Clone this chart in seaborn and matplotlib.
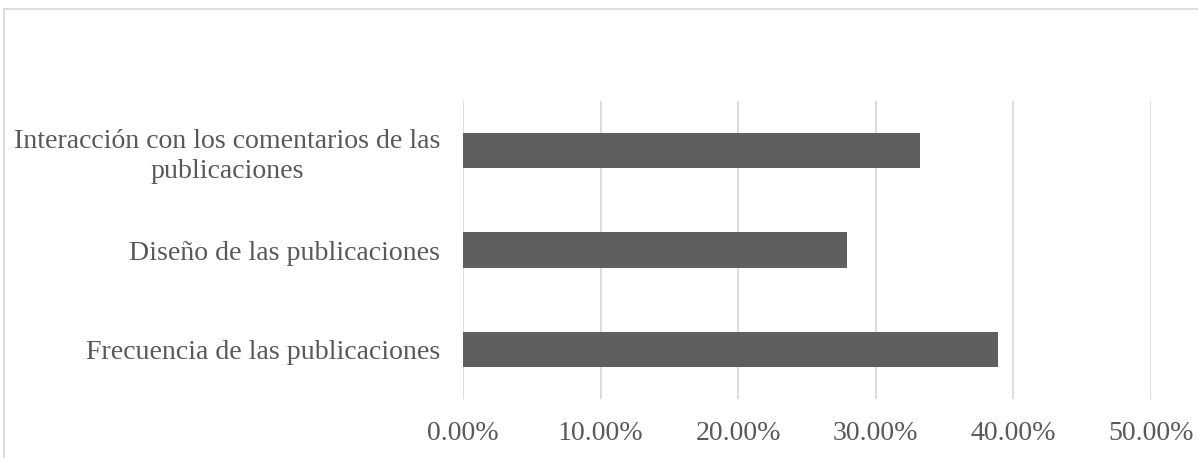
import matplotlib
matplotlib.use("Agg")
import matplotlib.pyplot as plt
import matplotlib.patches as mpatches
from matplotlib.ticker import FuncFormatter, MultipleLocator
import pandas as pd
import seaborn as sns

# Aspects evaluated and their share of responses
categories = [
    "Interacción con los comentarios de las\npublicaciones",
    "Diseño de las publicaciones",
    "Frecuencia de las publicaciones",
]
shares = [0.332, 0.279, 0.389]

df = pd.DataFrame({"aspecto": categories, "porcentaje": shares})

sns.set_theme(style="white")
plt.rcParams["font.family"] = ["Liberation Serif", "DejaVu Serif"]

TEXT = "#595959"
GRID = "#d9d9d9"
BAR = "#5f5f5f"

W, H = 1198, 458
fig = plt.figure(figsize=(W / 100, H / 100), dpi=100)
ax = fig.add_axes([463 / W, 1 - 399 / H, (1151 - 463) / W, (399 - 101) / H])

sns.barplot(data=df, x="porcentaje", y="aspecto", orient="h", color=BAR,
            width=0.357, saturation=1, ax=ax, zorder=3)
for p in ax.patches:
    p.set_edgecolor("none")

ax.set_xlim(0, 0.5)
ax.set_ylim(2.5, -0.5)
ax.xaxis.set_major_locator(MultipleLocator(0.1))
ax.xaxis.set_major_formatter(FuncFormatter(lambda v, _: f"{v * 100:.2f}%"))
ax.grid(axis="x", color=GRID, linewidth=1.3, zorder=0)
ax.grid(axis="y", visible=False)
for s in ax.spines.values():
    s.set_visible(False)

ax.set_xlabel("")
ax.set_ylabel("")
ax.tick_params(axis="x", length=0, pad=15.5, labelsize=20.1, labelcolor=TEXT)
ax.tick_params(axis="y", length=0, pad=16.5, labelsize=20.1, labelcolor=TEXT)
for lbl in ax.get_yticklabels():
    lbl.set_multialignment("center")
    lbl.set_linespacing(1.28)

# Chart area frame
fig.patches.append(mpatches.Rectangle((3.5 / W, -0.1), 1.2, 1 - 9.5 / H + 0.1,
                                      transform=fig.transFigure, fill=False,
                                      edgecolor=GRID, linewidth=1.3))

fig.savefig("out.png", dpi=100, facecolor="white")
